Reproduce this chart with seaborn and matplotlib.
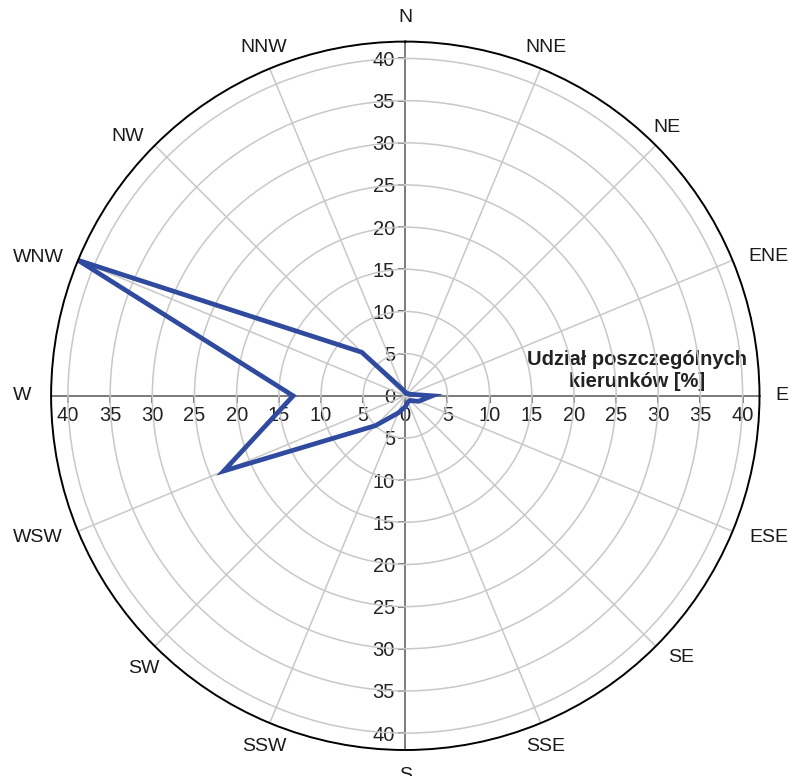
import numpy as np
import pandas as pd
import matplotlib
matplotlib.use("Agg")
import matplotlib.pyplot as plt
import matplotlib.transforms as mtransforms
import seaborn as sns

# ---- data ----
directions = ["N", "NNE", "NE", "ENE", "E", "ESE", "SE", "SSE",
              "S", "SSW", "SW", "WSW", "W", "WNW", "NW", "NNW"]
shares = [0.4, 0.3, 0.4, 0.5, 3.2, 1.7, 0.8, 0.8,
          1.3, 2.2, 5.0, 23.3, 13.3, 42.0, 7.3, 0.8]
radial_ticks = [5, 10, 15, 20, 25, 30, 35, 40]
axis_ticks = [-40, -35, -30, -25, -20, -15, -10, -5, 0, 5, 10, 15, 20, 25, 30, 35, 40]
axis_title = "Udział poszczególnych\nkierunków [%]"
rmax = 42

# label offsets (pixels) from the outer ring, per direction (layout only)
label_dx = [0, 5.5, 11.5, 36, 22, 36, 25, 5, 0, -5, -11, -40, -29, -40, -27, -6.5]
label_dy = [24, 21.5, 18, 4, 0, -6, -11, -23, -26, -23, -22, -6, 0, 3, 9, 21.5]

sns.set_theme(style="white")
plt.rcParams["font.family"] = ["Liberation Sans", "DejaVu Sans"]

W, H = 790, 776
fig = plt.figure(figsize=(W / 100, H / 100), dpi=100)
fig.patch.set_facecolor("white")

cx, cy, R = 405.3, 395.8, 354.2
rect = [(cx - R) / W, (H - cy - R) / H, 2 * R / W, 2 * R / H]

# Cartesian overlay with the crossed axes (behind)
ax2 = fig.add_axes(rect, zorder=0)
ax2.set_facecolor("white")
ax2.set_xlim(-rmax, rmax)
ax2.set_ylim(-rmax, rmax)
for s in ["top", "right"]:
    ax2.spines[s].set_visible(False)
for s in ["left", "bottom"]:
    ax2.spines[s].set_position(("data", 0))
    ax2.spines[s].set_color("#7a7a7a")
    ax2.spines[s].set_linewidth(1.4)
ax2.set_xticks(axis_ticks)
ax2.set_xticklabels([str(abs(t)) for t in axis_ticks])
ax2.set_yticks(axis_ticks)
ax2.set_yticklabels([str(abs(t)) for t in axis_ticks])
ax2.tick_params(axis="both", direction="out", length=5, width=1.1, color="#333333",
                labelsize=14.5, labelcolor="#222222", pad=2.5)
ax2.tick_params(axis="x", bottom=True)
ax2.tick_params(axis="y", left=True)
ax2.grid(False)

# Polar axes on top
ax = fig.add_axes(rect, projection="polar", zorder=1)
ax.set_facecolor("none")
ax.set_theta_zero_location("N")
ax.set_theta_direction(-1)
angles = np.deg2rad(np.arange(len(directions)) * 360.0 / len(directions))
ax.set_xticks(angles)
ax.set_xticklabels([])
ax.set_ylim(0, rmax)
ax.set_yticks(radial_ticks)
ax.set_yticklabels([])
ax.grid(True, color="#c8c8c8", linewidth=1.1)
ax.tick_params(axis="x", direction="out", length=4, width=1.1, color="black")
ax.spines["polar"].set_color("black")
ax.spines["polar"].set_linewidth(1.4)
for i, tick in enumerate(ax.xaxis.get_major_ticks()):
    if i % 4 == 0:
        tick.gridline.set_visible(False)

# direction labels
for th, lab, dx, dy in zip(angles, directions, label_dx, label_dy):
    tr = mtransforms.offset_copy(ax.transData, fig=fig, x=dx, y=dy, units="dots")
    ax.text(th, rmax, lab, transform=tr, ha="center", va="center",
            fontsize=14, color="#1a1a1a", clip_on=False)

df = pd.DataFrame({"theta": list(angles) + [angles[0]],
                   "r": shares + [shares[0]]})
sns.lineplot(data=df, x="theta", y="r", sort=False, estimator=None, ax=ax,
             color="#2f4a9e", linewidth=3.4, legend=False)
for ln in ax.lines:
    ln.set_clip_on(False)
    ln.set_solid_joinstyle("miter")
ax.set_xlabel("")
ax.set_ylabel("")

ax2.text(27.5, 3.0, axis_title, ha="center", va="center", fontsize=14.5,
         fontweight="bold", color="#222222", linespacing=1.15)

fig.savefig("out.png", dpi=100, facecolor="white")
